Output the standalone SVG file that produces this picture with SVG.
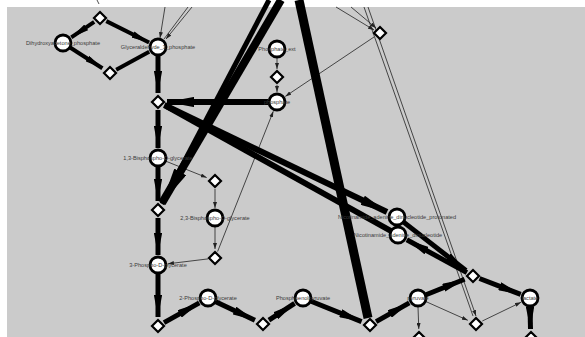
<svg xmlns="http://www.w3.org/2000/svg" width="585" height="337" viewBox="0 0 585 337">
<style>
.bg{fill:#cbcbcb}
.thick{stroke:#000;fill:none;stroke-linecap:butt}
.thin{stroke:#222;stroke-width:0.8;fill:none}
.c{fill:#fff;stroke:#000;stroke-width:2.8}
.d{fill:#fff;stroke:#000;stroke-width:2.2}
.lbl{font-family:"Liberation Sans",Arial,sans-serif;font-size:5.6px;fill:#3a3a3a;text-anchor:middle;dominant-baseline:central}
</style>
<defs>
<marker id="ah" viewBox="0 0 4.5 1.7" refX="4.5" refY="0.85" markerWidth="4.5" markerHeight="1.7" orient="auto" markerUnits="strokeWidth"><path d="M0,0 L4.5,0.85 L0,1.7 z" fill="#000"/></marker>
<marker id="at" viewBox="0 0 6 4" refX="6" refY="2" markerWidth="6" markerHeight="4" orient="auto" markerUnits="userSpaceOnUse"><path d="M0,0 L6,2 L0,4 z" fill="#222"/></marker>
</defs>
<rect x="0" y="0" width="585" height="337" fill="#fff"/>
<rect class="bg" x="7" y="7" width="578" height="330"/>
<g id="connectors">
<g class="thin">
<line x1="97" y1="0" x2="99" y2="4"/>
<line x1="165" y1="7" x2="160" y2="38" marker-end="url(#at)"/>
<line x1="188" y1="7" x2="164" y2="39"/>
<line x1="192" y1="7" x2="166" y2="39" marker-end="url(#at)"/>
<line x1="336" y1="7" x2="374" y2="30" marker-end="url(#at)"/>
<line x1="351" y1="7" x2="376" y2="28" marker-end="url(#at)"/>
<line x1="364" y1="7" x2="473" y2="316"/>
<line x1="368" y1="7" x2="476" y2="316" marker-end="url(#at)"/>
<line x1="277" y1="58" x2="277" y2="69" marker-end="url(#at)"/>
<line x1="277" y1="85" x2="277" y2="92" marker-end="url(#at)"/>
<line x1="374" y1="37" x2="285.3" y2="96.4" marker-end="url(#at)"/>
<line x1="165.4" y1="161" x2="206.7" y2="177.6" marker-end="url(#at)"/>
<line x1="215" y1="189" x2="215" y2="208" marker-end="url(#at)"/>
<line x1="215" y1="227" x2="215" y2="249" marker-end="url(#at)"/>
<line x1="208" y1="258.9" x2="167.9" y2="263.8" marker-end="url(#at)"/>
<line x1="217.6" y1="251.5" x2="273.3" y2="111.3" marker-end="url(#at)"/>
<line x1="418" y1="307" x2="418.8" y2="329" marker-end="url(#at)"/>
<line x1="425.3" y1="301.3" x2="467.8" y2="320.3" marker-end="url(#at)"/>
<line x1="482.3" y1="321" x2="521" y2="302.3" marker-end="url(#at)"/>
</g>
<g class="thick">
<line x1="94.2" y1="21.9" x2="71.3" y2="37.4" stroke-width="4" marker-end="url(#ah)"/>
<line x1="106.3" y1="21.1" x2="149.1" y2="42.5" stroke-width="4" marker-end="url(#ah)"/>
<line x1="69.7" y1="47.3" x2="102.4" y2="68.2" stroke-width="4" marker-end="url(#ah)"/>
<line x1="116.2" y1="69.7" x2="149.2" y2="51.8" stroke-width="4"/>
<line x1="158" y1="56" x2="158" y2="93" stroke-width="5" marker-end="url(#ah)"/>
<line x1="268" y1="102" x2="167" y2="102" stroke-width="6" marker-end="url(#ah)"/>
<line x1="158" y1="110" x2="158" y2="148" stroke-width="5" marker-end="url(#ah)"/>
<line x1="164.3" y1="105" x2="387" y2="212" stroke-width="6" marker-end="url(#ah)"/>
<line x1="391" y1="231" x2="166" y2="106" stroke-width="6"/>
<line x1="158" y1="167" x2="158" y2="201" stroke-width="5" marker-end="url(#ah)"/>
<line x1="158" y1="218" x2="158" y2="255" stroke-width="5" marker-end="url(#ah)"/>
<line x1="158" y1="274" x2="158" y2="317" stroke-width="5" marker-end="url(#ah)"/>
<line x1="164" y1="322.6" x2="199.3" y2="302.9" stroke-width="5" marker-end="url(#ah)"/>
<line x1="215.2" y1="301.4" x2="254.9" y2="320.2" stroke-width="5" marker-end="url(#ah)"/>
<line x1="268.9" y1="320.2" x2="294.6" y2="303.4" stroke-width="5" marker-end="url(#ah)"/>
<line x1="310.4" y1="301" x2="361.6" y2="321.6" stroke-width="5" marker-end="url(#ah)"/>
<line x1="376.1" y1="321.6" x2="409.3" y2="302.9" stroke-width="5" marker-end="url(#ah)"/>
<line x1="425.4" y1="295" x2="464.6" y2="279.3" stroke-width="5" marker-end="url(#ah)"/>
<line x1="403.3" y1="221.9" x2="465.9" y2="270.5" stroke-width="5" marker-end="url(#ah)"/>
<line x1="466.9" y1="272.6" x2="406.8" y2="239.8" stroke-width="5" marker-end="url(#ah)"/>
<line x1="479.5" y1="278.5" x2="520.7" y2="294.4" stroke-width="5" marker-end="url(#ah)"/>
<line x1="530" y1="307" x2="530.5" y2="329" stroke-width="5" marker-end="url(#ah)"/>
<line x1="281" y1="0" x2="162" y2="203" stroke-width="8" marker-end="url(#ah)"/>
<line x1="269" y1="0" x2="162" y2="204" stroke-width="5"/>
<line x1="299" y1="0" x2="368" y2="318" stroke-width="9"/>
</g>
</g>
<g id="n_dhap"><circle class="c" cx="63" cy="43" r="8"/><text class="lbl" x="63" y="43">Dihydroxyacetone_phosphate</text></g>
<g id="n_gap"><circle class="c" cx="158" cy="47" r="8"/><text class="lbl" x="158" y="47">Glyceraldehyde_3_phosphate</text></g>
<g id="n_piext"><circle class="c" cx="277" cy="49" r="8"/><text class="lbl" x="277" y="49">Phosphate_ext</text></g>
<g id="n_pi"><circle class="c" cx="277" cy="102" r="8"/><text class="lbl" x="277" y="102">phosphate</text></g>
<g id="n_bpg13"><circle class="c" cx="158" cy="158" r="8"/><text class="lbl" x="158" y="158">1,3-Bisphospho-D-glycerate</text></g>
<g id="n_bpg23"><circle class="c" cx="215" cy="218" r="8"/><text class="lbl" x="215" y="218">2,3-Bisphospho-D-glycerate</text></g>
<g id="n_pg3"><circle class="c" cx="158" cy="265" r="8"/><text class="lbl" x="158" y="265">3-Phospho-D-glycerate</text></g>
<g id="n_pg2"><circle class="c" cx="208" cy="298" r="8"/><text class="lbl" x="208" y="298">2-Phospho-D-glycerate</text></g>
<g id="n_pep"><circle class="c" cx="303" cy="298" r="8"/><text class="lbl" x="303" y="298">Phosphoenolpyruvate</text></g>
<g id="n_nadh"><circle class="c" cx="397" cy="217" r="8"/><text class="lbl" x="397" y="217">Nicotinamide_adenine_dinucleotide_protonated</text></g>
<g id="n_nad"><circle class="c" cx="398" cy="235" r="8"/><text class="lbl" x="398" y="235">Nicotinamide_adenine_dinucleotide</text></g>
<g id="n_pyr"><circle class="c" cx="418" cy="298" r="8"/><text class="lbl" x="418" y="298">pyruvate</text></g>
<g id="n_lac"><circle class="c" cx="530" cy="298" r="8"/><text class="lbl" x="530" y="298">lactate</text></g>
<g id="r_a"><polygon class="d" points="100,12 106,18 100,24 94,18"/></g>
<g id="r_b"><polygon class="d" points="110,67 116,73 110,79 104,73"/></g>
<g id="r_c"><polygon class="d" points="158,96 164,102 158,108 152,102"/></g>
<g id="r_d"><polygon class="d" points="158,204 164,210 158,216 152,210"/></g>
<g id="r_e"><polygon class="d" points="215,175 221,181 215,187 209,181"/></g>
<g id="r_f"><polygon class="d" points="215,252 221,258 215,264 209,258"/></g>
<g id="r_g"><polygon class="d" points="158,320 164,326 158,332 152,326"/></g>
<g id="r_h"><polygon class="d" points="263,318 269,324 263,330 257,324"/></g>
<g id="r_i"><polygon class="d" points="370,319 376,325 370,331 364,325"/></g>
<g id="r_j"><polygon class="d" points="473,270 479,276 473,282 467,276"/></g>
<g id="r_k"><polygon class="d" points="476,318 482,324 476,330 470,324"/></g>
<g id="r_l"><polygon class="d" points="277,71 283,77 277,83 271,77"/></g>
<g id="r_m"><polygon class="d" points="380,27 386,33 380,39 374,33"/></g>
<g id="r_n1"><polygon class="d" points="419,332 425,338 419,344 413,338"/></g>
<g id="r_n2"><polygon class="d" points="531,332 537,338 531,344 525,338"/></g>
</svg>
